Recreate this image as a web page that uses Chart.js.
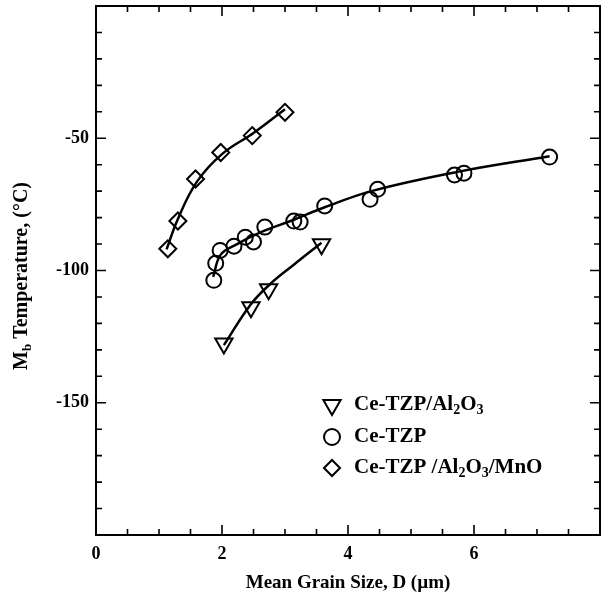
<!DOCTYPE html>
<html>
<head>
<meta charset="utf-8">
<script src="https://cdn.jsdelivr.net/npm/chart.js@4.4.0/dist/chart.umd.min.js"></script>
<style>
  html, body { margin: 0; padding: 0; background: #fff; }
  #caixa { width: 603px; height: 601px; }
</style>
</head>
<body>
<div id="caixa"><canvas id="grafico"></canvas></div>
<script>
// pontos medidos
var triX = [2.03, 2.46, 2.74, 3.58];
var triY = [-127.6, -113.9, -107.1, -90.1];

var circX = [1.87, 1.90, 1.97, 2.19, 2.37, 2.50, 2.68, 3.14, 3.24, 3.63, 4.35, 4.47, 5.69, 5.84, 7.20];
var circY = [-103.7, -97.3, -92.4, -90.8, -87.4, -89.2, -83.6, -81.3, -81.7, -75.6, -73.1, -69.3, -63.9, -63.2, -57.1];

var diaX = [1.14, 1.30, 1.58, 1.98, 2.48, 3.00];
var diaY = [-91.8, -81.3, -65.4, -55.4, -49.0, -40.2];

// curvas de ajuste
var ajTriX = [2.03, 2.45, 2.77, 3.14, 3.58];
var ajTriY = [-128.2, -113.0, -105.0, -97.8, -89.5];

var ajCircX = [1.86, 1.98, 2.24, 2.61, 3.14, 3.64, 4.40, 5.72, 7.20];
var ajCircY = [-102.4, -94.0, -90.0, -85.6, -80.8, -76.0, -69.8, -62.8, -56.8];

var ajDiaX = [1.12, 1.30, 1.60, 2.00, 2.50, 3.00];
var ajDiaY = [-92, -80.5, -66.5, -56, -48, -39];

var ticksX = [0, 2, 4, 6];
var ticksY = [-150, -100, -50];

var legendaTextos = [
  [["Ce-TZP/Al", 0], ["2", 1], ["O", 0], ["3", 1]],
  [["Ce-TZP", 0]],
  [["Ce-TZP /Al", 0], ["2", 1], ["O", 0], ["3", 1], ["/MnO", 0]]
];
var legendaEstilos = ["triangle", "circle", "rectRot"];

var FONTE = "'Liberation Serif', 'Times New Roman', serif";

function juntar(xs, ys) {
  var r = [];
  for (var i = 0; i < xs.length; i++) r.push({ x: xs[i], y: ys[i] });
  return r;
}

function escreverComSub(ctx, partes, x, y, tam) {
  var cx = x;
  for (var i = 0; i < partes.length; i++) {
    var sub = partes[i][1];
    ctx.font = "bold " + (sub ? Math.round(tam * 0.65) : tam) + "px " + FONTE;
    ctx.fillText(partes[i][0], cx, sub ? y + tam * 0.28 : y);
    cx += ctx.measureText(partes[i][0]).width;
  }
}

const moldura = {
  id: "moldura",
  afterDraw(chart) {
    const ctx = chart.ctx;
    const a = chart.chartArea;
    const sx = chart.scales.x;
    const sy = chart.scales.y;
    ctx.save();
    ctx.strokeStyle = "#000";
    ctx.lineWidth = 2;
    ctx.strokeRect(a.left, a.top, a.right - a.left, a.bottom - a.top);

    ctx.lineWidth = 1.6;
    ctx.beginPath();
    for (var v = 0.5; v < 8; v += 0.5) {
      var px = sx.getPixelForValue(v);
      var len = (v % 2 == 0) ? 10 : 6;
      ctx.moveTo(px, a.bottom); ctx.lineTo(px, a.bottom - len);
      ctx.moveTo(px, a.top); ctx.lineTo(px, a.top + len);
    }
    for (var w = -190; w < 0; w += 10) {
      var py = sy.getPixelForValue(w);
      var len2 = (w % 50 == 0) ? 10 : 6;
      ctx.moveTo(a.left, py); ctx.lineTo(a.left + len2, py);
      ctx.moveTo(a.right, py); ctx.lineTo(a.right - len2, py);
    }
    ctx.stroke();

    // titulos dos eixos
    ctx.fillStyle = "#000";
    ctx.textBaseline = "middle";
    ctx.textAlign = "center";
    ctx.font = "bold 19px " + FONTE;
    ctx.fillText("Mean Grain Size, D (\u00b5m)", (a.left + a.right) / 2, 583);

    ctx.save();
    ctx.translate(22, 276);
    ctx.rotate(-Math.PI / 2);
    ctx.textAlign = "left";
    var partesY = [["M", 0], ["b", 1], [" Temperature, (\u00b0C)", 0]];
    var larg = 0;
    for (var i = 0; i < partesY.length; i++) {
      ctx.font = "bold " + (partesY[i][1] ? 13 : 20) + "px " + FONTE;
      larg += ctx.measureText(partesY[i][0]).width;
    }
    escreverComSub(ctx, partesY, -larg / 2, 0, 20);
    ctx.restore();

    // legenda
    var linhas = [405, 437, 468];
    for (var k = 0; k < 3; k++) {
      ctx.strokeStyle = "#000";
      ctx.fillStyle = "rgba(0,0,0,0)";
      ctx.lineWidth = 2;
      Chart.helpers.drawPoint(ctx, {
        pointStyle: legendaEstilos[k],
        radius: k == 0 ? 10 : 8,
        rotation: k == 0 ? 180 : 0,
        borderWidth: 2
      }, 332, linhas[k]);
      ctx.fillStyle = "#000";
      ctx.textAlign = "left";
      escreverComSub(ctx, legendaTextos[k], 354, linhas[k], 21);
    }
    ctx.restore();
  }
};

var vazio = "rgba(0,0,0,0)";

const config = {
  type: "scatter",
  data: {
    datasets: [
      { data: juntar(ajTriX, ajTriY), showLine: true, borderColor: "#000", borderWidth: 2.5, pointRadius: 0, tension: 0.4 },
      { data: juntar(ajCircX, ajCircY), showLine: true, borderColor: "#000", borderWidth: 2.5, pointRadius: 0, tension: 0.4 },
      { data: juntar(ajDiaX, ajDiaY), showLine: true, borderColor: "#000", borderWidth: 2.5, pointRadius: 0, tension: 0.4 },
      { data: juntar(triX, triY), pointStyle: "triangle", rotation: 180, pointRadius: 10, borderColor: "#000", backgroundColor: vazio, borderWidth: 2 },
      { data: juntar(circX, circY), pointStyle: "circle", pointRadius: 7.5, borderColor: "#000", backgroundColor: vazio, borderWidth: 2 },
      { data: juntar(diaX, diaY), pointStyle: "rectRot", pointRadius: 8.5, borderColor: "#000", backgroundColor: vazio, borderWidth: 2 }
    ]
  },
  options: {
    responsive: true,
    maintainAspectRatio: false,
    animation: false,
    layout: { autoPadding: false, padding: { left: 0, right: 3, top: 6, bottom: 0 } },
    plugins: { legend: { display: false }, tooltip: { enabled: false } },
    scales: {
      x: {
        type: "linear", min: 0, max: 8,
        grid: { display: false, drawTicks: false },
        border: { display: false },
        afterBuildTicks: function (s) { s.ticks = ticksX.map(function (v) { return { value: v }; }); },
        afterFit: function (s) { s.height = 66; s.paddingLeft = 0; s.paddingRight = 0; },
        ticks: {
          padding: 9, color: "#000",
          font: { family: FONTE, size: 18, weight: "bold" }
        }
      },
      y: {
        type: "linear", min: -200, max: 0,
        grid: { display: false, drawTicks: false },
        border: { display: false },
        afterBuildTicks: function (s) { s.ticks = ticksY.map(function (v) { return { value: v }; }); },
        afterFit: function (s) { s.width = 96; s.paddingTop = 0; s.paddingBottom = 0; },
        ticks: {
          padding: 7, color: "#000",
          font: { family: FONTE, size: 18, weight: "bold" }
        }
      }
    }
  },
  plugins: [moldura]
};

let meuGrafico = new Chart(document.getElementById("grafico"), config);
</script>
</body>
</html>
